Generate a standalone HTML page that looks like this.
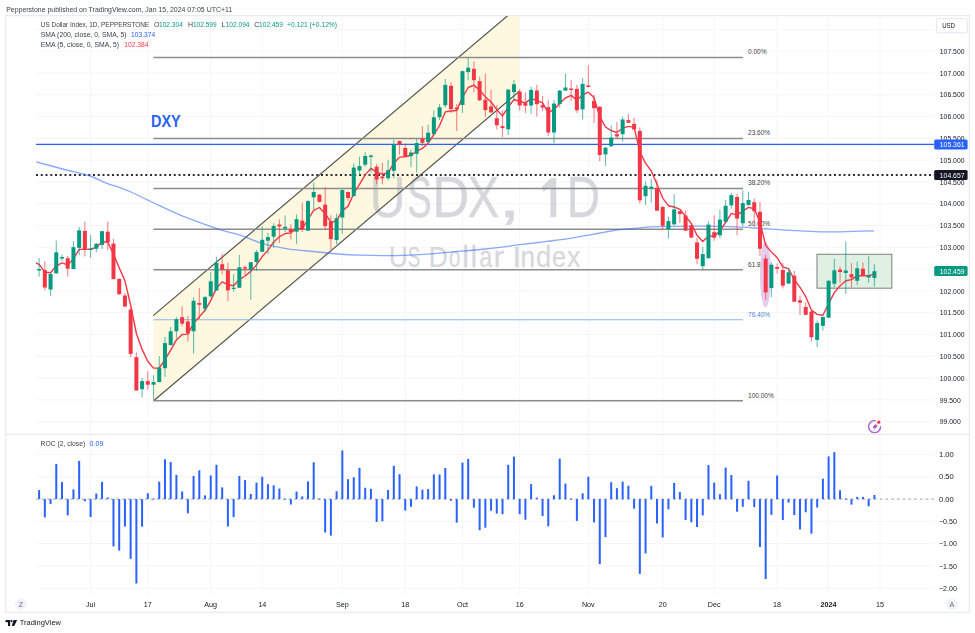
<!DOCTYPE html>
<html><head><meta charset="utf-8"><title>USDX 1D</title>
<style>html,body{margin:0;padding:0;background:#fff;}body{width:975px;height:633px;position:relative;overflow:hidden;font-family:"Liberation Sans",sans-serif;}</style>
</head><body>
<svg width="975" height="633" viewBox="0 0 975 633" style="position:absolute;left:0;top:0;filter:blur(0.3px)"><defs><clipPath id="mainclip"><rect x="36" y="16" width="898" height="418"/></clipPath><clipPath id="rocclip"><rect x="36" y="435" width="898" height="160"/></clipPath></defs><rect x="5.6" y="15.6" width="963.9" height="596.8" fill="#fff" stroke="#e9ebf0" stroke-width="1.3"/><line x1="36" y1="29.4" x2="934" y2="29.4" stroke="#f5f6f5" stroke-width="1"/><line x1="36" y1="51.2" x2="934" y2="51.2" stroke="#f5f6f5" stroke-width="1"/><line x1="36" y1="73.0" x2="934" y2="73.0" stroke="#f5f6f5" stroke-width="1"/><line x1="36" y1="94.8" x2="934" y2="94.8" stroke="#f5f6f5" stroke-width="1"/><line x1="36" y1="116.6" x2="934" y2="116.6" stroke="#f5f6f5" stroke-width="1"/><line x1="36" y1="138.4" x2="934" y2="138.4" stroke="#f5f6f5" stroke-width="1"/><line x1="36" y1="160.2" x2="934" y2="160.2" stroke="#f5f6f5" stroke-width="1"/><line x1="36" y1="182.0" x2="934" y2="182.0" stroke="#f5f6f5" stroke-width="1"/><line x1="36" y1="203.8" x2="934" y2="203.8" stroke="#f5f6f5" stroke-width="1"/><line x1="36" y1="225.6" x2="934" y2="225.6" stroke="#f5f6f5" stroke-width="1"/><line x1="36" y1="247.4" x2="934" y2="247.4" stroke="#f5f6f5" stroke-width="1"/><line x1="36" y1="269.2" x2="934" y2="269.2" stroke="#f5f6f5" stroke-width="1"/><line x1="36" y1="290.9" x2="934" y2="290.9" stroke="#f5f6f5" stroke-width="1"/><line x1="36" y1="312.7" x2="934" y2="312.7" stroke="#f5f6f5" stroke-width="1"/><line x1="36" y1="334.5" x2="934" y2="334.5" stroke="#f5f6f5" stroke-width="1"/><line x1="36" y1="356.3" x2="934" y2="356.3" stroke="#f5f6f5" stroke-width="1"/><line x1="36" y1="378.1" x2="934" y2="378.1" stroke="#f5f6f5" stroke-width="1"/><line x1="36" y1="399.9" x2="934" y2="399.9" stroke="#f5f6f5" stroke-width="1"/><line x1="36" y1="421.7" x2="934" y2="421.7" stroke="#f5f6f5" stroke-width="1"/><line x1="36" y1="454.6" x2="934" y2="454.6" stroke="#f5f6f5" stroke-width="1"/><line x1="36" y1="476.8" x2="934" y2="476.8" stroke="#f5f6f5" stroke-width="1"/><line x1="36" y1="499.1" x2="934" y2="499.1" stroke="#f5f6f5" stroke-width="1"/><line x1="36" y1="521.4" x2="934" y2="521.4" stroke="#f5f6f5" stroke-width="1"/><line x1="36" y1="543.6" x2="934" y2="543.6" stroke="#f5f6f5" stroke-width="1"/><line x1="36" y1="565.9" x2="934" y2="565.9" stroke="#f5f6f5" stroke-width="1"/><line x1="36" y1="588.2" x2="934" y2="588.2" stroke="#f5f6f5" stroke-width="1"/><line x1="90.6" y1="16" x2="90.6" y2="595" stroke="#f5f6f5" stroke-width="1"/><line x1="147.8" y1="16" x2="147.8" y2="595" stroke="#f5f6f5" stroke-width="1"/><line x1="210.7" y1="16" x2="210.7" y2="595" stroke="#f5f6f5" stroke-width="1"/><line x1="262.2" y1="16" x2="262.2" y2="595" stroke="#f5f6f5" stroke-width="1"/><line x1="342.3" y1="16" x2="342.3" y2="595" stroke="#f5f6f5" stroke-width="1"/><line x1="405.3" y1="16" x2="405.3" y2="595" stroke="#f5f6f5" stroke-width="1"/><line x1="462.5" y1="16" x2="462.5" y2="595" stroke="#f5f6f5" stroke-width="1"/><line x1="519.7" y1="16" x2="519.7" y2="595" stroke="#f5f6f5" stroke-width="1"/><line x1="588.3" y1="16" x2="588.3" y2="595" stroke="#f5f6f5" stroke-width="1"/><line x1="662.7" y1="16" x2="662.7" y2="595" stroke="#f5f6f5" stroke-width="1"/><line x1="714.2" y1="16" x2="714.2" y2="595" stroke="#f5f6f5" stroke-width="1"/><line x1="777.1" y1="16" x2="777.1" y2="595" stroke="#f5f6f5" stroke-width="1"/><line x1="828.6" y1="16" x2="828.6" y2="595" stroke="#f5f6f5" stroke-width="1"/><line x1="880.1" y1="16" x2="880.1" y2="595" stroke="#f5f6f5" stroke-width="1"/><line x1="5.5" y1="434.4" x2="969.5" y2="434.4" stroke="#e9ebf0" stroke-width="1.3"/><g clip-path="url(#mainclip)"><polygon points="153.2,315.6 519.4,5.8 519.4,91.3 153.6,400.8" fill="#fff8e1"/><g opacity="0.52" fill="#b2b5be" stroke="#b2b5be" stroke-width="0.35"><text x="0" y="217.4" transform="translate(369.50 0) scale(0.870 1)" font-family='"Liberation Sans", sans-serif' font-size="57.5">U</text><text x="0" y="217.4" transform="translate(407.24 0) scale(0.634 1)" font-family='"Liberation Sans", sans-serif' font-size="57.5">S</text><text x="0" y="217.4" transform="translate(432.29 0) scale(0.893 1)" font-family='"Liberation Sans", sans-serif' font-size="57.5">D</text><text x="0" y="217.4" transform="translate(467.44 0) scale(0.831 1)" font-family='"Liberation Sans", sans-serif' font-size="57.5">X</text><text x="0" y="217.4" transform="translate(497.91 0) scale(1.455 1)" font-family='"Liberation Sans", sans-serif' font-size="57.5">,</text><text x="0" y="217.4" transform="translate(566.81 0) scale(0.803 1)" font-family='"Liberation Sans", sans-serif' font-size="57.5">D</text><path d="M550.6,178.3 L556.1,178.3 L556.1,217.1 L550.6,217.1 L550.6,186.5 L543.5,191.5 L542.0,187.0 Z"/></g><g opacity="0.52" fill="#b2b5be" stroke="#b2b5be" stroke-width="0.25"><text x="0" y="266.9" transform="translate(388.89 0) scale(0.892 1)" font-family='"Liberation Sans", sans-serif' font-size="29.0">U</text><text x="0" y="266.9" transform="translate(407.85 0) scale(0.649 1)" font-family='"Liberation Sans", sans-serif' font-size="29.0">S</text><text x="0" y="266.9" transform="translate(428.79 0) scale(0.908 1)" font-family='"Liberation Sans", sans-serif' font-size="29.0">D</text><text x="0" y="266.9" transform="translate(449.08 0) scale(0.704 1)" font-family='"Liberation Sans", sans-serif' font-size="29.0">o</text><text x="0" y="266.9" transform="translate(462.20 0) scale(1.034 1)" font-family='"Liberation Sans", sans-serif' font-size="29.0">l</text><text x="0" y="266.9" transform="translate(470.50 0) scale(1.034 1)" font-family='"Liberation Sans", sans-serif' font-size="29.0">l</text><text x="0" y="266.9" transform="translate(479.26 0) scale(0.809 1)" font-family='"Liberation Sans", sans-serif' font-size="29.0">a</text><text x="0" y="266.9" transform="translate(493.41 0) scale(1.088 1)" font-family='"Liberation Sans", sans-serif' font-size="29.0">r</text><text x="0" y="266.9" transform="translate(512.23 0) scale(1.138 1)" font-family='"Liberation Sans", sans-serif' font-size="29.0">I</text><text x="0" y="266.9" transform="translate(520.43 0) scale(0.901 1)" font-family='"Liberation Sans", sans-serif' font-size="29.0">n</text><text x="0" y="266.9" transform="translate(536.00 0) scale(0.945 1)" font-family='"Liberation Sans", sans-serif' font-size="29.0">d</text><text x="0" y="266.9" transform="translate(551.88 0) scale(0.876 1)" font-family='"Liberation Sans", sans-serif' font-size="29.0">e</text><text x="0" y="266.9" transform="translate(567.03 0) scale(0.927 1)" font-family='"Liberation Sans", sans-serif' font-size="29.0">x</text></g><line x1="153.2" y1="315.6" x2="519.4" y2="5.8" stroke="#505046" stroke-width="1.15"/><line x1="153.6" y1="400.8" x2="519.4" y2="91.3" stroke="#505046" stroke-width="1.15"/><line x1="153.4" y1="57.5" x2="743" y2="57.5" stroke="#8c8c8c" stroke-width="1.5"/><text x="748" y="54.4" font-family='"Liberation Sans", sans-serif' font-size="8.0" fill="#3e4149" transform="translate(748 0) scale(0.82 1) translate(-748 0)">0.00%</text><line x1="153.4" y1="138.5" x2="743" y2="138.5" stroke="#8c8c8c" stroke-width="1.5"/><text x="748" y="135.4" font-family='"Liberation Sans", sans-serif' font-size="8.0" fill="#3e4149" transform="translate(748 0) scale(0.82 1) translate(-748 0)">23.60%</text><line x1="153.4" y1="188.6" x2="743" y2="188.6" stroke="#8c8c8c" stroke-width="1.5"/><text x="748" y="185.5" font-family='"Liberation Sans", sans-serif' font-size="8.0" fill="#3e4149" transform="translate(748 0) scale(0.82 1) translate(-748 0)">38.20%</text><line x1="153.4" y1="229.2" x2="743" y2="229.2" stroke="#8c8c8c" stroke-width="1.5"/><text x="748" y="226.1" font-family='"Liberation Sans", sans-serif' font-size="8.0" fill="#3e4149" transform="translate(748 0) scale(0.82 1) translate(-748 0)">50.00%</text><line x1="153.4" y1="269.7" x2="743" y2="269.7" stroke="#8c8c8c" stroke-width="1.5"/><text x="748" y="266.6" font-family='"Liberation Sans", sans-serif' font-size="8.0" fill="#3e4149" transform="translate(748 0) scale(0.82 1) translate(-748 0)">61.80%</text><line x1="153.4" y1="319.8" x2="743" y2="319.8" stroke="#8db3e8" stroke-width="1.1"/><text x="748" y="316.7" font-family='"Liberation Sans", sans-serif' font-size="8.0" fill="#4a86d4" transform="translate(748 0) scale(0.82 1) translate(-748 0)">76.40%</text><line x1="153.4" y1="400.8" x2="743" y2="400.8" stroke="#8c8c8c" stroke-width="1.5"/><text x="748" y="397.7" font-family='"Liberation Sans", sans-serif' font-size="8.0" fill="#3e4149" transform="translate(748 0) scale(0.82 1) translate(-748 0)">100.00%</text><line x1="36" y1="144.4" x2="934" y2="144.4" stroke="#2962ff" stroke-width="1.3"/><line x1="36" y1="175.1" x2="934" y2="175.1" stroke="#2a2e39" stroke-width="2" stroke-dasharray="2 2.75"/><rect x="817" y="254.3" width="74.8" height="33.9" fill="#e0f0e3" stroke="#858a88" stroke-width="1.1"/><ellipse cx="765.5" cy="274.5" rx="5.5" ry="33" fill="#e3c8ea" fill-opacity="0.92"/><path fill="none" stroke="#2962ff" stroke-opacity="0.55" stroke-width="1.35" d="M36.2,161.8 C40.3,162.9 53.3,166.5 60.8,168.5 C68.3,170.5 76.2,172.3 81.3,173.6 C86.4,174.9 87.2,174.9 91.5,176.5 C95.8,178.1 102.2,181.5 106.9,183.3 C111.7,185.2 116.2,186.2 120.0,187.6 C123.8,189.0 124.9,189.2 130.0,191.5 C135.1,193.8 142.2,197.5 150.8,201.5 C159.4,205.5 170.2,211.1 181.5,215.7 C192.8,220.3 208.8,225.9 218.5,229.2 C228.2,232.4 232.3,232.7 240.0,235.2 C247.7,237.7 256.4,241.9 264.6,244.2 C272.8,246.5 281.0,247.9 289.2,249.1 C297.4,250.3 305.6,250.7 313.8,251.5 C322.0,252.3 330.8,253.4 338.5,254.0 C346.2,254.6 352.4,254.9 360.0,255.2 C367.6,255.5 375.6,255.6 383.8,255.6 C392.1,255.6 400.9,255.4 409.5,255.1 C418.1,254.8 426.6,254.2 435.1,253.6 C443.7,252.9 453.3,251.9 460.8,251.2 C468.3,250.5 473.5,250.2 480.0,249.5 C486.5,248.8 493.3,248.1 500.0,247.3 C506.7,246.5 512.5,245.6 520.0,244.7 C527.5,243.8 536.7,242.7 545.0,241.6 C553.3,240.5 562.5,239.4 570.0,238.3 C577.5,237.2 584.2,235.8 590.0,234.8 C595.8,233.8 600.0,233.0 605.0,232.1 C610.0,231.2 614.2,230.3 620.0,229.6 C625.8,228.9 633.3,228.3 640.0,227.8 C646.7,227.3 650.0,227.0 660.0,226.7 C670.0,226.4 686.7,226.0 700.0,226.1 C713.3,226.2 729.5,226.7 740.0,227.1 C750.5,227.5 753.5,227.9 762.8,228.5 C772.1,229.1 784.6,230.0 795.6,230.6 C806.6,231.2 817.5,231.8 828.5,231.9 C839.5,232.0 853.7,231.3 861.3,231.1 C868.9,230.9 872.0,230.9 874.1,230.9"/><polyline fill="none" stroke="#f23645" stroke-width="1.4" stroke-linejoin="round" points="33.4,262.0 39.1,264.3 44.8,272.1 50.6,272.7 56.3,265.9 62.0,262.9 67.7,264.9 73.4,259.0 79.2,249.4 84.9,249.4 90.6,249.1 96.3,247.3 102.0,242.0 107.8,242.0 113.5,254.4 119.2,267.7 124.9,280.6 130.6,305.0 136.4,333.5 142.1,349.4 147.8,361.2 153.5,368.1 159.3,368.0 165.0,359.7 170.7,350.2 176.4,339.9 182.1,334.5 187.9,334.1 193.6,323.0 199.3,316.9 205.0,310.3 210.7,300.6 216.5,288.1 222.2,281.9 227.9,284.7 233.6,285.7 239.3,279.6 245.1,276.0 250.8,271.4 256.5,264.9 262.2,256.6 268.0,250.1 273.7,242.0 279.4,236.8 285.1,233.5 290.8,233.0 296.6,228.4 302.3,228.7 308.0,219.5 313.7,210.4 319.4,207.5 325.2,213.7 330.9,222.2 336.6,220.9 342.3,210.6 348.0,206.4 353.8,193.5 359.5,184.3 365.2,174.9 370.9,168.4 376.6,172.1 382.4,174.2 388.1,172.8 393.8,163.3 399.5,157.1 405.3,156.7 411.0,155.3 416.7,151.2 422.4,148.4 428.1,143.2 433.9,134.5 439.6,125.5 445.3,111.9 451.0,111.0 456.7,110.5 462.5,97.4 468.2,87.5 473.9,85.1 479.6,90.1 485.3,96.8 491.1,102.0 496.8,109.7 502.5,115.9 508.2,107.1 514.0,99.5 519.7,101.5 525.4,102.9 531.1,98.6 536.8,100.4 542.6,102.8 548.3,112.7 554.0,109.7 559.7,103.3 565.4,98.0 571.2,95.4 576.9,100.3 582.6,94.9 588.3,92.2 594.0,97.6 599.8,116.7 605.5,127.0 611.2,130.6 616.9,132.5 622.7,128.2 628.4,126.4 634.1,127.4 639.8,151.7 645.5,163.1 651.3,171.0 657.0,184.2 662.7,198.1 668.4,205.7 674.1,207.0 679.9,209.3 685.6,216.4 691.3,223.5 697.0,235.2 702.7,241.5 708.5,235.9 714.2,236.5 719.9,230.8 725.6,222.5 731.4,213.4 737.1,215.1 742.8,211.1 748.5,207.4 754.2,208.7 760.0,222.1 765.7,245.5 771.4,251.9 777.1,257.5 782.8,266.9 788.6,268.7 794.3,279.7 800.0,287.4 805.7,296.5 811.4,310.1 817.2,314.4 822.9,315.3 828.6,303.8 834.3,292.6 840.1,285.7 845.8,280.7 851.5,279.6 857.2,275.8 862.9,275.7 868.7,275.6 874.4,274.1"/><line x1="39.11" y1="258.0" x2="39.11" y2="276.7" stroke="#089981" stroke-width="1.1" stroke-opacity="0.62"/><rect x="37.11" y="269.0" width="4.0" height="1.5" fill="#089981"/><line x1="44.83" y1="261.3" x2="44.83" y2="290.2" stroke="#f23645" stroke-width="1.1" stroke-opacity="0.62"/><rect x="42.83" y="270.0" width="4.0" height="17.5" fill="#f23645"/><line x1="50.55" y1="273.0" x2="50.55" y2="296.2" stroke="#089981" stroke-width="1.1" stroke-opacity="0.62"/><rect x="48.55" y="274.0" width="4.0" height="15.5" fill="#089981"/><line x1="56.27" y1="240.5" x2="56.27" y2="273.4" stroke="#089981" stroke-width="1.1" stroke-opacity="0.62"/><rect x="54.27" y="252.3" width="4.0" height="21.1" fill="#089981"/><line x1="61.99" y1="254.6" x2="61.99" y2="261.3" stroke="#089981" stroke-width="1.1" stroke-opacity="0.62"/><rect x="59.99" y="257.0" width="4.0" height="1.5" fill="#089981"/><line x1="67.72" y1="256.0" x2="67.72" y2="276.7" stroke="#f23645" stroke-width="1.1" stroke-opacity="0.62"/><rect x="65.72" y="258.2" width="4.0" height="10.5" fill="#f23645"/><line x1="73.44" y1="241.2" x2="73.44" y2="269.0" stroke="#089981" stroke-width="1.1" stroke-opacity="0.62"/><rect x="71.44" y="247.2" width="4.0" height="21.8" fill="#089981"/><line x1="79.16" y1="227.0" x2="79.16" y2="255.3" stroke="#089981" stroke-width="1.1" stroke-opacity="0.62"/><rect x="77.16" y="230.4" width="4.0" height="17.5" fill="#089981"/><line x1="84.88" y1="221.7" x2="84.88" y2="256.5" stroke="#f23645" stroke-width="1.1" stroke-opacity="0.62"/><rect x="82.88" y="231.0" width="4.0" height="18.4" fill="#f23645"/><line x1="90.60" y1="234.8" x2="90.60" y2="257.7" stroke="#089981" stroke-width="1.1" stroke-opacity="0.62"/><rect x="88.60" y="248.5" width="4.0" height="1.5" fill="#089981"/><line x1="96.32" y1="243.0" x2="96.32" y2="252.3" stroke="#089981" stroke-width="1.1" stroke-opacity="0.62"/><rect x="94.32" y="243.8" width="4.0" height="4.9" fill="#089981"/><line x1="102.04" y1="231.0" x2="102.04" y2="249.0" stroke="#089981" stroke-width="1.1" stroke-opacity="0.62"/><rect x="100.04" y="231.2" width="4.0" height="13.7" fill="#089981"/><line x1="107.76" y1="221.4" x2="107.76" y2="250.3" stroke="#f23645" stroke-width="1.1" stroke-opacity="0.62"/><rect x="105.76" y="231.7" width="4.0" height="10.5" fill="#f23645"/><line x1="113.48" y1="238.9" x2="113.48" y2="279.5" stroke="#f23645" stroke-width="1.1" stroke-opacity="0.62"/><rect x="111.48" y="243.6" width="4.0" height="35.5" fill="#f23645"/><line x1="119.20" y1="278.0" x2="119.20" y2="295.0" stroke="#f23645" stroke-width="1.1" stroke-opacity="0.62"/><rect x="117.20" y="279.0" width="4.0" height="15.2" fill="#f23645"/><line x1="124.93" y1="293.0" x2="124.93" y2="307.0" stroke="#f23645" stroke-width="1.1" stroke-opacity="0.62"/><rect x="122.93" y="295.5" width="4.0" height="11.0" fill="#f23645"/><line x1="130.65" y1="308.5" x2="130.65" y2="357.2" stroke="#f23645" stroke-width="1.1" stroke-opacity="0.62"/><rect x="128.65" y="309.6" width="4.0" height="44.3" fill="#f23645"/><line x1="136.37" y1="352.5" x2="136.37" y2="391.0" stroke="#f23645" stroke-width="1.1" stroke-opacity="0.62"/><rect x="134.37" y="357.2" width="4.0" height="33.3" fill="#f23645"/><line x1="142.09" y1="378.0" x2="142.09" y2="397.5" stroke="#089981" stroke-width="1.1" stroke-opacity="0.62"/><rect x="140.09" y="381.1" width="4.0" height="8.1" fill="#089981"/><line x1="147.81" y1="371.3" x2="147.81" y2="389.4" stroke="#f23645" stroke-width="1.1" stroke-opacity="0.62"/><rect x="145.81" y="381.1" width="4.0" height="3.6" fill="#f23645"/><line x1="153.53" y1="375.3" x2="153.53" y2="399.5" stroke="#089981" stroke-width="1.1" stroke-opacity="0.62"/><rect x="151.53" y="382.0" width="4.0" height="2.7" fill="#089981"/><line x1="159.25" y1="355.9" x2="159.25" y2="382.5" stroke="#089981" stroke-width="1.1" stroke-opacity="0.62"/><rect x="157.25" y="367.7" width="4.0" height="14.3" fill="#089981"/><line x1="164.97" y1="336.8" x2="164.97" y2="376.7" stroke="#089981" stroke-width="1.1" stroke-opacity="0.62"/><rect x="162.97" y="343.1" width="4.0" height="25.1" fill="#089981"/><line x1="170.69" y1="326.9" x2="170.69" y2="345.5" stroke="#089981" stroke-width="1.1" stroke-opacity="0.62"/><rect x="168.69" y="331.3" width="4.0" height="13.8" fill="#089981"/><line x1="176.41" y1="317.0" x2="176.41" y2="338.7" stroke="#089981" stroke-width="1.1" stroke-opacity="0.62"/><rect x="174.41" y="319.2" width="4.0" height="12.1" fill="#089981"/><line x1="182.14" y1="306.5" x2="182.14" y2="326.6" stroke="#f23645" stroke-width="1.1" stroke-opacity="0.62"/><rect x="180.14" y="317.2" width="4.0" height="6.5" fill="#f23645"/><line x1="187.86" y1="315.9" x2="187.86" y2="341.4" stroke="#f23645" stroke-width="1.1" stroke-opacity="0.62"/><rect x="185.86" y="321.5" width="4.0" height="11.8" fill="#f23645"/><line x1="193.58" y1="297.3" x2="193.58" y2="353.5" stroke="#089981" stroke-width="1.1" stroke-opacity="0.62"/><rect x="191.58" y="300.8" width="4.0" height="30.5" fill="#089981"/><line x1="199.30" y1="288.0" x2="199.30" y2="319.2" stroke="#f23645" stroke-width="1.1" stroke-opacity="0.62"/><rect x="197.30" y="303.0" width="4.0" height="1.8" fill="#f23645"/><line x1="205.02" y1="296.0" x2="205.02" y2="311.8" stroke="#089981" stroke-width="1.1" stroke-opacity="0.62"/><rect x="203.02" y="297.1" width="4.0" height="11.6" fill="#089981"/><line x1="210.74" y1="272.3" x2="210.74" y2="297.0" stroke="#089981" stroke-width="1.1" stroke-opacity="0.62"/><rect x="208.74" y="281.3" width="4.0" height="15.1" fill="#089981"/><line x1="216.46" y1="256.8" x2="216.46" y2="291.0" stroke="#089981" stroke-width="1.1" stroke-opacity="0.62"/><rect x="214.46" y="262.9" width="4.0" height="27.5" fill="#089981"/><line x1="222.18" y1="253.5" x2="222.18" y2="274.3" stroke="#f23645" stroke-width="1.1" stroke-opacity="0.62"/><rect x="220.18" y="264.2" width="4.0" height="5.4" fill="#f23645"/><line x1="227.90" y1="262.9" x2="227.90" y2="301.1" stroke="#f23645" stroke-width="1.1" stroke-opacity="0.62"/><rect x="225.90" y="270.3" width="4.0" height="20.1" fill="#f23645"/><line x1="233.62" y1="274.3" x2="233.62" y2="291.7" stroke="#089981" stroke-width="1.1" stroke-opacity="0.62"/><rect x="231.62" y="287.7" width="4.0" height="1.3" fill="#089981"/><line x1="239.35" y1="254.8" x2="239.35" y2="288.0" stroke="#089981" stroke-width="1.1" stroke-opacity="0.62"/><rect x="237.35" y="267.3" width="4.0" height="20.4" fill="#089981"/><line x1="245.07" y1="265.2" x2="245.07" y2="275.0" stroke="#f23645" stroke-width="1.1" stroke-opacity="0.62"/><rect x="243.07" y="267.2" width="4.0" height="1.5" fill="#f23645"/><line x1="250.79" y1="262.0" x2="250.79" y2="299.8" stroke="#089981" stroke-width="1.1" stroke-opacity="0.62"/><rect x="248.79" y="262.2" width="4.0" height="7.4" fill="#089981"/><line x1="256.51" y1="250.1" x2="256.51" y2="270.9" stroke="#089981" stroke-width="1.1" stroke-opacity="0.62"/><rect x="254.51" y="252.1" width="4.0" height="9.9" fill="#089981"/><line x1="262.23" y1="226.3" x2="262.23" y2="252.0" stroke="#089981" stroke-width="1.1" stroke-opacity="0.62"/><rect x="260.23" y="239.8" width="4.0" height="12.0" fill="#089981"/><line x1="267.95" y1="233.0" x2="267.95" y2="254.1" stroke="#089981" stroke-width="1.1" stroke-opacity="0.62"/><rect x="265.95" y="237.1" width="4.0" height="3.6" fill="#089981"/><line x1="273.67" y1="223.3" x2="273.67" y2="248.1" stroke="#089981" stroke-width="1.1" stroke-opacity="0.62"/><rect x="271.67" y="225.9" width="4.0" height="10.8" fill="#089981"/><line x1="279.39" y1="219.6" x2="279.39" y2="243.0" stroke="#f23645" stroke-width="1.1" stroke-opacity="0.62"/><rect x="277.39" y="224.5" width="4.0" height="2.0" fill="#f23645"/><line x1="285.11" y1="215.6" x2="285.11" y2="232.0" stroke="#089981" stroke-width="1.1" stroke-opacity="0.62"/><rect x="283.11" y="226.8" width="4.0" height="1.7" fill="#089981"/><line x1="290.84" y1="224.2" x2="290.84" y2="239.4" stroke="#f23645" stroke-width="1.1" stroke-opacity="0.62"/><rect x="288.84" y="229.0" width="4.0" height="3.0" fill="#f23645"/><line x1="296.56" y1="214.5" x2="296.56" y2="244.1" stroke="#089981" stroke-width="1.1" stroke-opacity="0.62"/><rect x="294.56" y="219.2" width="4.0" height="12.5" fill="#089981"/><line x1="302.28" y1="202.4" x2="302.28" y2="232.0" stroke="#f23645" stroke-width="1.1" stroke-opacity="0.62"/><rect x="300.28" y="220.7" width="4.0" height="8.6" fill="#f23645"/><line x1="308.00" y1="200.0" x2="308.00" y2="231.0" stroke="#089981" stroke-width="1.1" stroke-opacity="0.62"/><rect x="306.00" y="201.2" width="4.0" height="29.4" fill="#089981"/><line x1="313.72" y1="182.6" x2="313.72" y2="209.4" stroke="#089981" stroke-width="1.1" stroke-opacity="0.62"/><rect x="311.72" y="192.0" width="4.0" height="5.3" fill="#089981"/><line x1="319.44" y1="194.0" x2="319.44" y2="202.5" stroke="#f23645" stroke-width="1.1" stroke-opacity="0.62"/><rect x="317.44" y="194.7" width="4.0" height="7.2" fill="#f23645"/><line x1="325.16" y1="187.3" x2="325.16" y2="229.7" stroke="#f23645" stroke-width="1.1" stroke-opacity="0.62"/><rect x="323.16" y="204.6" width="4.0" height="21.5" fill="#f23645"/><line x1="330.88" y1="215.3" x2="330.88" y2="249.5" stroke="#f23645" stroke-width="1.1" stroke-opacity="0.62"/><rect x="328.88" y="221.6" width="4.0" height="17.5" fill="#f23645"/><line x1="336.60" y1="213.5" x2="336.60" y2="244.1" stroke="#089981" stroke-width="1.1" stroke-opacity="0.62"/><rect x="334.60" y="218.2" width="4.0" height="21.8" fill="#089981"/><line x1="342.32" y1="189.5" x2="342.32" y2="233.7" stroke="#089981" stroke-width="1.1" stroke-opacity="0.62"/><rect x="340.32" y="190.0" width="4.0" height="27.5" fill="#089981"/><line x1="348.04" y1="191.5" x2="348.04" y2="200.7" stroke="#f23645" stroke-width="1.1" stroke-opacity="0.62"/><rect x="346.04" y="192.0" width="4.0" height="6.0" fill="#f23645"/><line x1="353.77" y1="163.6" x2="353.77" y2="196.5" stroke="#089981" stroke-width="1.1" stroke-opacity="0.62"/><rect x="351.77" y="167.6" width="4.0" height="28.4" fill="#089981"/><line x1="359.49" y1="156.7" x2="359.49" y2="174.8" stroke="#089981" stroke-width="1.1" stroke-opacity="0.62"/><rect x="357.49" y="166.1" width="4.0" height="4.4" fill="#089981"/><line x1="365.21" y1="152.2" x2="365.21" y2="166.7" stroke="#089981" stroke-width="1.1" stroke-opacity="0.62"/><rect x="363.21" y="156.0" width="4.0" height="8.7" fill="#089981"/><line x1="370.93" y1="154.4" x2="370.93" y2="172.8" stroke="#089981" stroke-width="1.1" stroke-opacity="0.62"/><rect x="368.93" y="155.5" width="4.0" height="1.5" fill="#089981"/><line x1="376.65" y1="164.0" x2="376.65" y2="184.2" stroke="#f23645" stroke-width="1.1" stroke-opacity="0.62"/><rect x="374.65" y="166.7" width="4.0" height="12.8" fill="#f23645"/><line x1="382.37" y1="163.0" x2="382.37" y2="184.2" stroke="#f23645" stroke-width="1.1" stroke-opacity="0.62"/><rect x="380.37" y="176.5" width="4.0" height="1.8" fill="#f23645"/><line x1="388.09" y1="159.8" x2="388.09" y2="180.2" stroke="#089981" stroke-width="1.1" stroke-opacity="0.62"/><rect x="386.09" y="170.1" width="4.0" height="8.1" fill="#089981"/><line x1="393.81" y1="139.6" x2="393.81" y2="178.2" stroke="#089981" stroke-width="1.1" stroke-opacity="0.62"/><rect x="391.81" y="144.2" width="4.0" height="26.6" fill="#089981"/><line x1="399.53" y1="140.5" x2="399.53" y2="154.7" stroke="#f23645" stroke-width="1.1" stroke-opacity="0.62"/><rect x="397.53" y="141.0" width="4.0" height="3.6" fill="#f23645"/><line x1="405.25" y1="143.5" x2="405.25" y2="156.5" stroke="#f23645" stroke-width="1.1" stroke-opacity="0.62"/><rect x="403.25" y="148.0" width="4.0" height="8.1" fill="#f23645"/><line x1="410.98" y1="149.3" x2="410.98" y2="167.3" stroke="#089981" stroke-width="1.1" stroke-opacity="0.62"/><rect x="408.98" y="152.5" width="4.0" height="3.6" fill="#089981"/><line x1="416.70" y1="139.0" x2="416.70" y2="172.7" stroke="#089981" stroke-width="1.1" stroke-opacity="0.62"/><rect x="414.70" y="143.0" width="4.0" height="10.8" fill="#089981"/><line x1="422.42" y1="126.4" x2="422.42" y2="145.7" stroke="#f23645" stroke-width="1.1" stroke-opacity="0.62"/><rect x="420.42" y="138.5" width="4.0" height="4.3" fill="#f23645"/><line x1="428.14" y1="124.7" x2="428.14" y2="142.5" stroke="#089981" stroke-width="1.1" stroke-opacity="0.62"/><rect x="426.14" y="132.7" width="4.0" height="9.4" fill="#089981"/><line x1="433.86" y1="110.6" x2="433.86" y2="134.5" stroke="#089981" stroke-width="1.1" stroke-opacity="0.62"/><rect x="431.86" y="117.3" width="4.0" height="16.8" fill="#089981"/><line x1="439.58" y1="103.9" x2="439.58" y2="120.0" stroke="#089981" stroke-width="1.1" stroke-opacity="0.62"/><rect x="437.58" y="107.3" width="4.0" height="10.0" fill="#089981"/><line x1="445.30" y1="79.1" x2="445.30" y2="107.7" stroke="#089981" stroke-width="1.1" stroke-opacity="0.62"/><rect x="443.30" y="84.9" width="4.0" height="20.4" fill="#089981"/><line x1="451.02" y1="82.2" x2="451.02" y2="113.0" stroke="#f23645" stroke-width="1.1" stroke-opacity="0.62"/><rect x="449.02" y="85.8" width="4.0" height="23.2" fill="#f23645"/><line x1="456.74" y1="104.0" x2="456.74" y2="131.0" stroke="#f23645" stroke-width="1.1" stroke-opacity="0.62"/><rect x="454.74" y="107.6" width="4.0" height="1.9" fill="#f23645"/><line x1="462.47" y1="70.5" x2="462.47" y2="113.1" stroke="#089981" stroke-width="1.1" stroke-opacity="0.62"/><rect x="460.47" y="71.2" width="4.0" height="33.8" fill="#089981"/><line x1="468.19" y1="57.8" x2="468.19" y2="80.2" stroke="#089981" stroke-width="1.1" stroke-opacity="0.62"/><rect x="466.19" y="67.7" width="4.0" height="4.4" fill="#089981"/><line x1="473.91" y1="61.4" x2="473.91" y2="92.3" stroke="#f23645" stroke-width="1.1" stroke-opacity="0.62"/><rect x="471.91" y="68.8" width="4.0" height="11.4" fill="#f23645"/><line x1="479.63" y1="76.8" x2="479.63" y2="101.0" stroke="#f23645" stroke-width="1.1" stroke-opacity="0.62"/><rect x="477.63" y="81.1" width="4.0" height="19.2" fill="#f23645"/><line x1="485.35" y1="73.5" x2="485.35" y2="117.1" stroke="#f23645" stroke-width="1.1" stroke-opacity="0.62"/><rect x="483.35" y="99.7" width="4.0" height="10.4" fill="#f23645"/><line x1="491.07" y1="89.6" x2="491.07" y2="113.0" stroke="#f23645" stroke-width="1.1" stroke-opacity="0.62"/><rect x="489.07" y="106.4" width="4.0" height="6.0" fill="#f23645"/><line x1="496.79" y1="105.0" x2="496.79" y2="129.2" stroke="#f23645" stroke-width="1.1" stroke-opacity="0.62"/><rect x="494.79" y="118.2" width="4.0" height="7.0" fill="#f23645"/><line x1="502.51" y1="110.4" x2="502.51" y2="137.0" stroke="#f23645" stroke-width="1.1" stroke-opacity="0.62"/><rect x="500.51" y="126.2" width="4.0" height="1.9" fill="#f23645"/><line x1="508.23" y1="89.0" x2="508.23" y2="135.0" stroke="#089981" stroke-width="1.1" stroke-opacity="0.62"/><rect x="506.23" y="89.7" width="4.0" height="39.6" fill="#089981"/><line x1="513.95" y1="79.9" x2="513.95" y2="100.3" stroke="#089981" stroke-width="1.1" stroke-opacity="0.62"/><rect x="511.95" y="84.2" width="4.0" height="7.9" fill="#089981"/><line x1="519.67" y1="88.9" x2="519.67" y2="110.5" stroke="#f23645" stroke-width="1.1" stroke-opacity="0.62"/><rect x="517.67" y="91.5" width="4.0" height="14.0" fill="#f23645"/><line x1="525.40" y1="92.2" x2="525.40" y2="113.0" stroke="#f23645" stroke-width="1.1" stroke-opacity="0.62"/><rect x="523.40" y="103.1" width="4.0" height="2.6" fill="#f23645"/><line x1="531.12" y1="86.8" x2="531.12" y2="113.7" stroke="#089981" stroke-width="1.1" stroke-opacity="0.62"/><rect x="529.12" y="89.9" width="4.0" height="15.6" fill="#089981"/><line x1="536.84" y1="84.8" x2="536.84" y2="116.5" stroke="#f23645" stroke-width="1.1" stroke-opacity="0.62"/><rect x="534.84" y="90.5" width="4.0" height="13.7" fill="#f23645"/><line x1="542.56" y1="96.0" x2="542.56" y2="111.0" stroke="#f23645" stroke-width="1.1" stroke-opacity="0.62"/><rect x="540.56" y="105.2" width="4.0" height="2.3" fill="#f23645"/><line x1="548.28" y1="100.3" x2="548.28" y2="135.8" stroke="#f23645" stroke-width="1.1" stroke-opacity="0.62"/><rect x="546.28" y="107.2" width="4.0" height="25.3" fill="#f23645"/><line x1="554.00" y1="100.3" x2="554.00" y2="143.2" stroke="#089981" stroke-width="1.1" stroke-opacity="0.62"/><rect x="552.00" y="103.6" width="4.0" height="28.9" fill="#089981"/><line x1="559.72" y1="90.0" x2="559.72" y2="107.7" stroke="#089981" stroke-width="1.1" stroke-opacity="0.62"/><rect x="557.72" y="90.6" width="4.0" height="13.4" fill="#089981"/><line x1="565.44" y1="73.4" x2="565.44" y2="90.8" stroke="#089981" stroke-width="1.1" stroke-opacity="0.62"/><rect x="563.44" y="87.5" width="4.0" height="3.1" fill="#089981"/><line x1="571.16" y1="80.1" x2="571.16" y2="100.9" stroke="#f23645" stroke-width="1.1" stroke-opacity="0.62"/><rect x="569.16" y="88.5" width="4.0" height="1.5" fill="#f23645"/><line x1="576.88" y1="84.8" x2="576.88" y2="113.0" stroke="#f23645" stroke-width="1.1" stroke-opacity="0.62"/><rect x="574.88" y="88.9" width="4.0" height="21.4" fill="#f23645"/><line x1="582.61" y1="78.1" x2="582.61" y2="119.7" stroke="#089981" stroke-width="1.1" stroke-opacity="0.62"/><rect x="580.61" y="83.9" width="4.0" height="25.5" fill="#089981"/><line x1="588.33" y1="65.1" x2="588.33" y2="87.5" stroke="#f23645" stroke-width="1.1" stroke-opacity="0.62"/><rect x="586.33" y="85.5" width="4.0" height="1.5" fill="#f23645"/><line x1="594.05" y1="94.9" x2="594.05" y2="122.9" stroke="#f23645" stroke-width="1.1" stroke-opacity="0.62"/><rect x="592.05" y="100.9" width="4.0" height="7.3" fill="#f23645"/><line x1="599.77" y1="106.0" x2="599.77" y2="161.1" stroke="#f23645" stroke-width="1.1" stroke-opacity="0.62"/><rect x="597.77" y="106.8" width="4.0" height="48.2" fill="#f23645"/><line x1="605.49" y1="147.0" x2="605.49" y2="165.8" stroke="#089981" stroke-width="1.1" stroke-opacity="0.62"/><rect x="603.49" y="147.7" width="4.0" height="6.7" fill="#089981"/><line x1="611.21" y1="125.5" x2="611.21" y2="147.0" stroke="#089981" stroke-width="1.1" stroke-opacity="0.62"/><rect x="609.21" y="137.6" width="4.0" height="8.7" fill="#089981"/><line x1="616.93" y1="122.1" x2="616.93" y2="138.9" stroke="#f23645" stroke-width="1.1" stroke-opacity="0.62"/><rect x="614.93" y="134.2" width="4.0" height="2.3" fill="#f23645"/><line x1="622.65" y1="116.8" x2="622.65" y2="141.6" stroke="#089981" stroke-width="1.1" stroke-opacity="0.62"/><rect x="620.65" y="119.5" width="4.0" height="14.7" fill="#089981"/><line x1="628.37" y1="114.1" x2="628.37" y2="123.0" stroke="#f23645" stroke-width="1.1" stroke-opacity="0.62"/><rect x="626.37" y="120.1" width="4.0" height="2.7" fill="#f23645"/><line x1="634.10" y1="118.1" x2="634.10" y2="130.0" stroke="#f23645" stroke-width="1.1" stroke-opacity="0.62"/><rect x="632.10" y="123.9" width="4.0" height="5.6" fill="#f23645"/><line x1="639.82" y1="127.5" x2="639.82" y2="203.6" stroke="#f23645" stroke-width="1.1" stroke-opacity="0.62"/><rect x="637.82" y="130.9" width="4.0" height="69.4" fill="#f23645"/><line x1="645.54" y1="181.5" x2="645.54" y2="205.0" stroke="#089981" stroke-width="1.1" stroke-opacity="0.62"/><rect x="643.54" y="185.8" width="4.0" height="10.4" fill="#089981"/><line x1="651.26" y1="178.8" x2="651.26" y2="202.7" stroke="#089981" stroke-width="1.1" stroke-opacity="0.62"/><rect x="649.26" y="186.7" width="4.0" height="1.6" fill="#089981"/><line x1="656.98" y1="179.5" x2="656.98" y2="211.0" stroke="#f23645" stroke-width="1.1" stroke-opacity="0.62"/><rect x="654.98" y="188.2" width="4.0" height="22.5" fill="#f23645"/><line x1="662.70" y1="206.0" x2="662.70" y2="229.8" stroke="#f23645" stroke-width="1.1" stroke-opacity="0.62"/><rect x="660.70" y="207.0" width="4.0" height="18.8" fill="#f23645"/><line x1="668.42" y1="216.4" x2="668.42" y2="238.5" stroke="#089981" stroke-width="1.1" stroke-opacity="0.62"/><rect x="666.42" y="221.1" width="4.0" height="8.0" fill="#089981"/><line x1="674.14" y1="194.2" x2="674.14" y2="225.0" stroke="#089981" stroke-width="1.1" stroke-opacity="0.62"/><rect x="672.14" y="209.4" width="4.0" height="15.0" fill="#089981"/><line x1="679.86" y1="211.0" x2="679.86" y2="223.1" stroke="#f23645" stroke-width="1.1" stroke-opacity="0.62"/><rect x="677.86" y="211.3" width="4.0" height="2.7" fill="#f23645"/><line x1="685.58" y1="210.4" x2="685.58" y2="231.0" stroke="#f23645" stroke-width="1.1" stroke-opacity="0.62"/><rect x="683.58" y="215.5" width="4.0" height="15.1" fill="#f23645"/><line x1="691.31" y1="224.8" x2="691.31" y2="238.0" stroke="#f23645" stroke-width="1.1" stroke-opacity="0.62"/><rect x="689.31" y="225.3" width="4.0" height="12.3" fill="#f23645"/><line x1="697.03" y1="238.0" x2="697.03" y2="264.2" stroke="#f23645" stroke-width="1.1" stroke-opacity="0.62"/><rect x="695.03" y="242.4" width="4.0" height="16.4" fill="#f23645"/><line x1="702.75" y1="246.7" x2="702.75" y2="270.0" stroke="#089981" stroke-width="1.1" stroke-opacity="0.62"/><rect x="700.75" y="254.1" width="4.0" height="12.1" fill="#089981"/><line x1="708.47" y1="221.2" x2="708.47" y2="258.5" stroke="#089981" stroke-width="1.1" stroke-opacity="0.62"/><rect x="706.47" y="224.6" width="4.0" height="33.6" fill="#089981"/><line x1="714.19" y1="215.2" x2="714.19" y2="240.7" stroke="#f23645" stroke-width="1.1" stroke-opacity="0.62"/><rect x="712.19" y="232.2" width="4.0" height="5.4" fill="#f23645"/><line x1="719.91" y1="209.8" x2="719.91" y2="238.0" stroke="#089981" stroke-width="1.1" stroke-opacity="0.62"/><rect x="717.91" y="219.6" width="4.0" height="15.7" fill="#089981"/><line x1="725.63" y1="199.8" x2="725.63" y2="222.0" stroke="#089981" stroke-width="1.1" stroke-opacity="0.62"/><rect x="723.63" y="205.8" width="4.0" height="16.1" fill="#089981"/><line x1="731.35" y1="193.1" x2="731.35" y2="208.5" stroke="#089981" stroke-width="1.1" stroke-opacity="0.62"/><rect x="729.35" y="195.2" width="4.0" height="10.2" fill="#089981"/><line x1="737.07" y1="193.7" x2="737.07" y2="235.3" stroke="#f23645" stroke-width="1.1" stroke-opacity="0.62"/><rect x="735.07" y="197.0" width="4.0" height="21.6" fill="#f23645"/><line x1="742.79" y1="190.4" x2="742.79" y2="226.6" stroke="#089981" stroke-width="1.1" stroke-opacity="0.62"/><rect x="740.79" y="203.1" width="4.0" height="20.2" fill="#089981"/><line x1="748.51" y1="191.7" x2="748.51" y2="205.5" stroke="#089981" stroke-width="1.1" stroke-opacity="0.62"/><rect x="746.51" y="200.0" width="4.0" height="5.1" fill="#089981"/><line x1="754.24" y1="198.4" x2="754.24" y2="226.6" stroke="#f23645" stroke-width="1.1" stroke-opacity="0.62"/><rect x="752.24" y="202.2" width="4.0" height="9.0" fill="#f23645"/><line x1="759.96" y1="201.8" x2="759.96" y2="256.1" stroke="#f23645" stroke-width="1.1" stroke-opacity="0.62"/><rect x="757.96" y="211.8" width="4.0" height="37.0" fill="#f23645"/><line x1="765.68" y1="254.8" x2="765.68" y2="299.8" stroke="#f23645" stroke-width="1.1" stroke-opacity="0.62"/><rect x="763.68" y="258.6" width="4.0" height="33.8" fill="#f23645"/><line x1="771.40" y1="262.2" x2="771.40" y2="297.1" stroke="#089981" stroke-width="1.1" stroke-opacity="0.62"/><rect x="769.40" y="264.7" width="4.0" height="23.3" fill="#089981"/><line x1="777.12" y1="263.6" x2="777.12" y2="273.6" stroke="#f23645" stroke-width="1.1" stroke-opacity="0.62"/><rect x="775.12" y="267.0" width="4.0" height="1.8" fill="#f23645"/><line x1="782.84" y1="262.9" x2="782.84" y2="288.4" stroke="#f23645" stroke-width="1.1" stroke-opacity="0.62"/><rect x="780.84" y="270.0" width="4.0" height="15.7" fill="#f23645"/><line x1="788.56" y1="268.3" x2="788.56" y2="284.0" stroke="#089981" stroke-width="1.1" stroke-opacity="0.62"/><rect x="786.56" y="272.3" width="4.0" height="11.3" fill="#089981"/><line x1="794.28" y1="271.1" x2="794.28" y2="302.0" stroke="#f23645" stroke-width="1.1" stroke-opacity="0.62"/><rect x="792.28" y="275.7" width="4.0" height="26.0" fill="#f23645"/><line x1="800.00" y1="295.6" x2="800.00" y2="315.0" stroke="#f23645" stroke-width="1.1" stroke-opacity="0.62"/><rect x="798.00" y="300.3" width="4.0" height="2.4" fill="#f23645"/><line x1="805.73" y1="302.3" x2="805.73" y2="315.0" stroke="#f23645" stroke-width="1.1" stroke-opacity="0.62"/><rect x="803.73" y="307.0" width="4.0" height="7.8" fill="#f23645"/><line x1="811.45" y1="311.0" x2="811.45" y2="341.6" stroke="#f23645" stroke-width="1.1" stroke-opacity="0.62"/><rect x="809.45" y="311.7" width="4.0" height="25.5" fill="#f23645"/><line x1="817.17" y1="320.4" x2="817.17" y2="347.0" stroke="#089981" stroke-width="1.1" stroke-opacity="0.62"/><rect x="815.17" y="323.1" width="4.0" height="16.8" fill="#089981"/><line x1="822.89" y1="316.5" x2="822.89" y2="330.5" stroke="#089981" stroke-width="1.1" stroke-opacity="0.62"/><rect x="820.89" y="317.0" width="4.0" height="8.8" fill="#089981"/><line x1="828.61" y1="280.0" x2="828.61" y2="318.0" stroke="#089981" stroke-width="1.1" stroke-opacity="0.62"/><rect x="826.61" y="280.8" width="4.0" height="36.9" fill="#089981"/><line x1="834.33" y1="258.7" x2="834.33" y2="287.2" stroke="#089981" stroke-width="1.1" stroke-opacity="0.62"/><rect x="832.33" y="270.3" width="4.0" height="13.4" fill="#089981"/><line x1="840.05" y1="266.5" x2="840.05" y2="282.5" stroke="#f23645" stroke-width="1.1" stroke-opacity="0.62"/><rect x="838.05" y="269.5" width="4.0" height="2.5" fill="#f23645"/><line x1="845.77" y1="241.6" x2="845.77" y2="294.1" stroke="#089981" stroke-width="1.1" stroke-opacity="0.62"/><rect x="843.77" y="270.5" width="4.0" height="2.5" fill="#089981"/><line x1="851.49" y1="263.1" x2="851.49" y2="287.5" stroke="#f23645" stroke-width="1.1" stroke-opacity="0.62"/><rect x="849.49" y="274.2" width="4.0" height="3.3" fill="#f23645"/><line x1="857.21" y1="261.5" x2="857.21" y2="285.3" stroke="#089981" stroke-width="1.1" stroke-opacity="0.62"/><rect x="855.21" y="268.3" width="4.0" height="12.5" fill="#089981"/><line x1="862.94" y1="262.6" x2="862.94" y2="276.0" stroke="#f23645" stroke-width="1.1" stroke-opacity="0.62"/><rect x="860.94" y="268.7" width="4.0" height="6.6" fill="#f23645"/><line x1="868.66" y1="256.2" x2="868.66" y2="282.5" stroke="#089981" stroke-width="1.1" stroke-opacity="0.62"/><rect x="866.66" y="275.5" width="4.0" height="2.0" fill="#089981"/><line x1="874.38" y1="264.3" x2="874.38" y2="286.4" stroke="#089981" stroke-width="1.1" stroke-opacity="0.62"/><rect x="872.38" y="271.2" width="4.0" height="6.7" fill="#089981"/><text x="151" y="127.4" font-family='"Liberation Sans", sans-serif' font-size="16.8" font-weight="700" fill="#2962ff" textLength="29.7" lengthAdjust="spacingAndGlyphs">DXY</text><g><path d="M 880.58 426.08 A 6 6 0 1 1 875.64 420.69" fill="none" stroke="#b565d4" stroke-width="1.4"/><circle cx="878.8" cy="422.2" r="1.6" fill="#f23645"/><path d="M 877.1 422.3 L 872.3 427.7 L 874.9 427.7 L 873.3 430.9 L 877.9 425.3 L 875.4 425.3 Z" fill="#a045c4"/></g></g><g clip-path="url(#rocclip)"><line x1="36" y1="499.1" x2="934" y2="499.1" stroke="#b2b5be" stroke-width="1.2" stroke-dasharray="2.5 3.24"/><rect x="38.11" y="490.1" width="2" height="9.0" fill="#2962ff"/><rect x="43.83" y="499.1" width="2" height="18.3" fill="#2962ff"/><rect x="49.55" y="499.1" width="2" height="5.0" fill="#2962ff"/><rect x="55.27" y="463.9" width="2" height="35.2" fill="#2962ff"/><rect x="60.99" y="482.1" width="2" height="17.0" fill="#2962ff"/><rect x="66.72" y="499.1" width="2" height="16.3" fill="#2962ff"/><rect x="72.44" y="489.4" width="2" height="9.7" fill="#2962ff"/><rect x="78.16" y="460.9" width="2" height="38.2" fill="#2962ff"/><rect x="83.88" y="499.1" width="2" height="2.2" fill="#2962ff"/><rect x="89.60" y="499.1" width="2" height="17.9" fill="#2962ff"/><rect x="95.32" y="493.5" width="2" height="5.6" fill="#2962ff"/><rect x="101.04" y="481.9" width="2" height="17.2" fill="#2962ff"/><rect x="106.76" y="497.5" width="2" height="1.6" fill="#2962ff"/><rect x="112.48" y="499.1" width="2" height="47.3" fill="#2962ff"/><rect x="118.20" y="499.1" width="2" height="51.5" fill="#2962ff"/><rect x="123.93" y="499.1" width="2" height="27.4" fill="#2962ff"/><rect x="129.65" y="499.1" width="2" height="59.8" fill="#2962ff"/><rect x="135.37" y="499.1" width="2" height="84.4" fill="#2962ff"/><rect x="141.09" y="499.1" width="2" height="27.6" fill="#2962ff"/><rect x="146.81" y="493.2" width="2" height="5.9" fill="#2962ff"/><rect x="152.53" y="498.6" width="2" height="1.0" fill="#2962ff"/><rect x="158.25" y="481.7" width="2" height="17.4" fill="#2962ff"/><rect x="163.97" y="459.3" width="2" height="39.8" fill="#2962ff"/><rect x="169.69" y="462.0" width="2" height="37.1" fill="#2962ff"/><rect x="175.41" y="474.9" width="2" height="24.2" fill="#2962ff"/><rect x="181.14" y="491.4" width="2" height="7.7" fill="#2962ff"/><rect x="186.86" y="499.1" width="2" height="14.2" fill="#2962ff"/><rect x="192.58" y="476.0" width="2" height="23.1" fill="#2962ff"/><rect x="198.30" y="470.3" width="2" height="28.8" fill="#2962ff"/><rect x="204.02" y="495.4" width="2" height="3.7" fill="#2962ff"/><rect x="209.74" y="475.5" width="2" height="23.6" fill="#2962ff"/><rect x="215.46" y="464.8" width="2" height="34.3" fill="#2962ff"/><rect x="221.18" y="487.4" width="2" height="11.7" fill="#2962ff"/><rect x="226.90" y="499.1" width="2" height="27.4" fill="#2962ff"/><rect x="232.62" y="499.1" width="2" height="18.0" fill="#2962ff"/><rect x="238.35" y="476.0" width="2" height="23.1" fill="#2962ff"/><rect x="244.07" y="480.1" width="2" height="19.0" fill="#2962ff"/><rect x="249.79" y="494.0" width="2" height="5.1" fill="#2962ff"/><rect x="255.51" y="482.6" width="2" height="16.5" fill="#2962ff"/><rect x="261.23" y="476.8" width="2" height="22.3" fill="#2962ff"/><rect x="266.95" y="484.2" width="2" height="14.9" fill="#2962ff"/><rect x="272.67" y="485.3" width="2" height="13.8" fill="#2962ff"/><rect x="278.39" y="488.6" width="2" height="10.5" fill="#2962ff"/><rect x="284.11" y="498.6" width="2" height="1.0" fill="#2962ff"/><rect x="289.84" y="499.1" width="2" height="5.4" fill="#2962ff"/><rect x="295.56" y="491.6" width="2" height="7.5" fill="#2962ff"/><rect x="301.28" y="496.4" width="2" height="2.7" fill="#2962ff"/><rect x="307.00" y="481.4" width="2" height="17.7" fill="#2962ff"/><rect x="312.72" y="462.3" width="2" height="36.8" fill="#2962ff"/><rect x="318.44" y="498.6" width="2" height="1.0" fill="#2962ff"/><rect x="324.16" y="499.1" width="2" height="33.4" fill="#2962ff"/><rect x="329.88" y="499.1" width="2" height="36.5" fill="#2962ff"/><rect x="335.60" y="491.3" width="2" height="7.8" fill="#2962ff"/><rect x="341.32" y="450.5" width="2" height="48.6" fill="#2962ff"/><rect x="347.04" y="479.2" width="2" height="19.9" fill="#2962ff"/><rect x="352.77" y="477.2" width="2" height="21.9" fill="#2962ff"/><rect x="358.49" y="467.8" width="2" height="31.3" fill="#2962ff"/><rect x="364.21" y="487.8" width="2" height="11.3" fill="#2962ff"/><rect x="369.93" y="488.8" width="2" height="10.3" fill="#2962ff"/><rect x="375.65" y="499.1" width="2" height="22.8" fill="#2962ff"/><rect x="381.37" y="499.1" width="2" height="22.2" fill="#2962ff"/><rect x="387.09" y="489.9" width="2" height="9.2" fill="#2962ff"/><rect x="392.81" y="465.8" width="2" height="33.3" fill="#2962ff"/><rect x="398.53" y="474.2" width="2" height="24.9" fill="#2962ff"/><rect x="404.25" y="499.1" width="2" height="11.5" fill="#2962ff"/><rect x="409.98" y="499.1" width="2" height="7.7" fill="#2962ff"/><rect x="415.70" y="486.4" width="2" height="12.7" fill="#2962ff"/><rect x="421.42" y="489.7" width="2" height="9.4" fill="#2962ff"/><rect x="427.14" y="489.1" width="2" height="10.0" fill="#2962ff"/><rect x="432.86" y="474.4" width="2" height="24.7" fill="#2962ff"/><rect x="438.58" y="474.5" width="2" height="24.6" fill="#2962ff"/><rect x="444.30" y="467.9" width="2" height="31.2" fill="#2962ff"/><rect x="450.02" y="499.1" width="2" height="1.6" fill="#2962ff"/><rect x="455.74" y="499.1" width="2" height="23.5" fill="#2962ff"/><rect x="461.47" y="462.7" width="2" height="36.4" fill="#2962ff"/><rect x="467.19" y="458.9" width="2" height="40.2" fill="#2962ff"/><rect x="472.91" y="499.1" width="2" height="8.6" fill="#2962ff"/><rect x="478.63" y="499.1" width="2" height="31.1" fill="#2962ff"/><rect x="484.35" y="499.1" width="2" height="28.6" fill="#2962ff"/><rect x="490.07" y="499.1" width="2" height="11.6" fill="#2962ff"/><rect x="495.79" y="499.1" width="2" height="14.5" fill="#2962ff"/><rect x="501.51" y="499.1" width="2" height="15.1" fill="#2962ff"/><rect x="507.23" y="464.8" width="2" height="34.3" fill="#2962ff"/><rect x="512.95" y="456.7" width="2" height="42.4" fill="#2962ff"/><rect x="518.67" y="499.1" width="2" height="15.1" fill="#2962ff"/><rect x="524.40" y="499.1" width="2" height="20.6" fill="#2962ff"/><rect x="530.12" y="484.1" width="2" height="15.0" fill="#2962ff"/><rect x="535.84" y="497.7" width="2" height="1.4" fill="#2962ff"/><rect x="541.56" y="499.1" width="2" height="16.9" fill="#2962ff"/><rect x="547.28" y="499.1" width="2" height="27.2" fill="#2962ff"/><rect x="553.00" y="495.3" width="2" height="3.8" fill="#2962ff"/><rect x="558.72" y="458.6" width="2" height="40.5" fill="#2962ff"/><rect x="564.44" y="483.6" width="2" height="15.5" fill="#2962ff"/><rect x="570.16" y="498.6" width="2" height="1.0" fill="#2962ff"/><rect x="575.88" y="499.1" width="2" height="21.8" fill="#2962ff"/><rect x="581.61" y="493.3" width="2" height="5.8" fill="#2962ff"/><rect x="587.33" y="476.7" width="2" height="22.4" fill="#2962ff"/><rect x="593.05" y="499.1" width="2" height="23.3" fill="#2962ff"/><rect x="598.77" y="499.1" width="2" height="65.1" fill="#2962ff"/><rect x="604.49" y="499.1" width="2" height="38.0" fill="#2962ff"/><rect x="610.21" y="482.2" width="2" height="16.9" fill="#2962ff"/><rect x="615.93" y="488.2" width="2" height="10.9" fill="#2962ff"/><rect x="621.65" y="481.6" width="2" height="17.5" fill="#2962ff"/><rect x="627.37" y="485.8" width="2" height="13.3" fill="#2962ff"/><rect x="633.10" y="499.1" width="2" height="9.6" fill="#2962ff"/><rect x="638.82" y="499.1" width="2" height="74.8" fill="#2962ff"/><rect x="644.54" y="499.1" width="2" height="54.4" fill="#2962ff"/><rect x="650.26" y="485.8" width="2" height="13.3" fill="#2962ff"/><rect x="655.98" y="499.1" width="2" height="24.4" fill="#2962ff"/><rect x="661.70" y="499.1" width="2" height="38.3" fill="#2962ff"/><rect x="667.42" y="499.1" width="2" height="10.2" fill="#2962ff"/><rect x="673.14" y="482.9" width="2" height="16.2" fill="#2962ff"/><rect x="678.86" y="492.1" width="2" height="7.0" fill="#2962ff"/><rect x="684.58" y="499.1" width="2" height="20.9" fill="#2962ff"/><rect x="690.31" y="499.1" width="2" height="23.2" fill="#2962ff"/><rect x="696.03" y="499.1" width="2" height="27.9" fill="#2962ff"/><rect x="701.75" y="499.1" width="2" height="16.3" fill="#2962ff"/><rect x="707.47" y="465.1" width="2" height="34.0" fill="#2962ff"/><rect x="713.19" y="482.7" width="2" height="16.4" fill="#2962ff"/><rect x="718.91" y="494.2" width="2" height="4.9" fill="#2962ff"/><rect x="724.63" y="467.6" width="2" height="31.5" fill="#2962ff"/><rect x="730.35" y="475.0" width="2" height="24.1" fill="#2962ff"/><rect x="736.07" y="499.1" width="2" height="12.6" fill="#2962ff"/><rect x="741.79" y="499.1" width="2" height="7.7" fill="#2962ff"/><rect x="747.51" y="480.8" width="2" height="18.3" fill="#2962ff"/><rect x="753.24" y="499.1" width="2" height="8.0" fill="#2962ff"/><rect x="758.96" y="499.1" width="2" height="47.9" fill="#2962ff"/><rect x="764.68" y="499.1" width="2" height="79.9" fill="#2962ff"/><rect x="770.40" y="499.1" width="2" height="15.8" fill="#2962ff"/><rect x="776.12" y="475.5" width="2" height="23.6" fill="#2962ff"/><rect x="781.84" y="499.1" width="2" height="20.9" fill="#2962ff"/><rect x="787.56" y="499.1" width="2" height="3.5" fill="#2962ff"/><rect x="793.28" y="499.1" width="2" height="16.0" fill="#2962ff"/><rect x="799.00" y="499.1" width="2" height="30.3" fill="#2962ff"/><rect x="804.73" y="499.1" width="2" height="13.2" fill="#2962ff"/><rect x="810.45" y="499.1" width="2" height="34.6" fill="#2962ff"/><rect x="816.17" y="499.1" width="2" height="8.4" fill="#2962ff"/><rect x="821.89" y="478.7" width="2" height="20.4" fill="#2962ff"/><rect x="827.61" y="456.4" width="2" height="42.7" fill="#2962ff"/><rect x="833.33" y="452.1" width="2" height="47.0" fill="#2962ff"/><rect x="839.05" y="490.3" width="2" height="8.8" fill="#2962ff"/><rect x="844.77" y="498.6" width="2" height="1.0" fill="#2962ff"/><rect x="850.49" y="499.1" width="2" height="5.5" fill="#2962ff"/><rect x="856.21" y="496.9" width="2" height="2.2" fill="#2962ff"/><rect x="861.94" y="496.9" width="2" height="2.2" fill="#2962ff"/><rect x="867.66" y="499.1" width="2" height="7.2" fill="#2962ff"/><rect x="873.38" y="495.0" width="2" height="4.1" fill="#2962ff"/></g><text x="939.8" y="53.8" font-family='"Liberation Sans", sans-serif' font-size="7.2" fill="#131722" textLength="24.7" lengthAdjust="spacingAndGlyphs">107.500</text><text x="939.8" y="75.6" font-family='"Liberation Sans", sans-serif' font-size="7.2" fill="#131722" textLength="24.7" lengthAdjust="spacingAndGlyphs">107.000</text><text x="939.8" y="97.4" font-family='"Liberation Sans", sans-serif' font-size="7.2" fill="#131722" textLength="24.7" lengthAdjust="spacingAndGlyphs">106.500</text><text x="939.8" y="119.2" font-family='"Liberation Sans", sans-serif' font-size="7.2" fill="#131722" textLength="24.7" lengthAdjust="spacingAndGlyphs">106.000</text><text x="939.8" y="162.8" font-family='"Liberation Sans", sans-serif' font-size="7.2" fill="#131722" textLength="24.7" lengthAdjust="spacingAndGlyphs">105.000</text><text x="939.8" y="206.4" font-family='"Liberation Sans", sans-serif' font-size="7.2" fill="#131722" textLength="24.7" lengthAdjust="spacingAndGlyphs">104.000</text><text x="939.8" y="228.2" font-family='"Liberation Sans", sans-serif' font-size="7.2" fill="#131722" textLength="24.7" lengthAdjust="spacingAndGlyphs">103.500</text><text x="939.8" y="250.0" font-family='"Liberation Sans", sans-serif' font-size="7.2" fill="#131722" textLength="24.7" lengthAdjust="spacingAndGlyphs">103.000</text><text x="939.8" y="293.5" font-family='"Liberation Sans", sans-serif' font-size="7.2" fill="#131722" textLength="24.7" lengthAdjust="spacingAndGlyphs">102.000</text><text x="939.8" y="315.3" font-family='"Liberation Sans", sans-serif' font-size="7.2" fill="#131722" textLength="24.7" lengthAdjust="spacingAndGlyphs">101.500</text><text x="939.8" y="337.1" font-family='"Liberation Sans", sans-serif' font-size="7.2" fill="#131722" textLength="24.7" lengthAdjust="spacingAndGlyphs">101.000</text><text x="939.8" y="358.9" font-family='"Liberation Sans", sans-serif' font-size="7.2" fill="#131722" textLength="24.7" lengthAdjust="spacingAndGlyphs">100.500</text><text x="939.8" y="380.7" font-family='"Liberation Sans", sans-serif' font-size="7.2" fill="#131722" textLength="24.7" lengthAdjust="spacingAndGlyphs">100.000</text><text x="939.8" y="402.5" font-family='"Liberation Sans", sans-serif' font-size="7.2" fill="#131722" textLength="20.9" lengthAdjust="spacingAndGlyphs">99.500</text><text x="939.8" y="424.3" font-family='"Liberation Sans", sans-serif' font-size="7.2" fill="#131722" textLength="20.9" lengthAdjust="spacingAndGlyphs">99.000</text><text x="939.8" y="141.0" font-family='"Liberation Sans", sans-serif' font-size="7.2" fill="#131722" textLength="24.7" lengthAdjust="spacingAndGlyphs">105.500</text><text x="939.8" y="184.6" font-family='"Liberation Sans", sans-serif' font-size="7.2" fill="#131722" textLength="24.7" lengthAdjust="spacingAndGlyphs">104.500</text><rect x="934.2" y="139.4" width="33.4" height="10" rx="1.5" fill="#2962ff"/><text x="939.8" y="147.0" font-family='"Liberation Sans", sans-serif' font-size="7.2" fill="#fff" textLength="24.7" lengthAdjust="spacingAndGlyphs">105.361</text><rect x="934.2" y="170.1" width="33.4" height="10" rx="1.5" fill="#131722"/><text x="939.8" y="177.7" font-family='"Liberation Sans", sans-serif' font-size="7.2" fill="#fff" textLength="24.7" lengthAdjust="spacingAndGlyphs">104.657</text><rect x="934.2" y="265.9" width="33.4" height="10" rx="1.5" fill="#089981"/><text x="939.8" y="273.5" font-family='"Liberation Sans", sans-serif' font-size="7.2" fill="#fff" textLength="24.7" lengthAdjust="spacingAndGlyphs">102.459</text><rect x="936.5" y="18.5" width="30.8" height="14.2" rx="2.5" fill="#fff" stroke="#e6e8ee" stroke-width="1.1"/><text x="942.2" y="28.2" font-family='"Liberation Sans", sans-serif' font-size="7" fill="#131722" textLength="12.8" lengthAdjust="spacingAndGlyphs">USD</text><text x="939" y="457.2" font-family='"Liberation Sans", sans-serif' font-size="7.2" fill="#131722" textLength="14.7" lengthAdjust="spacingAndGlyphs">1.00</text><text x="939" y="479.4" font-family='"Liberation Sans", sans-serif' font-size="7.2" fill="#131722" textLength="14.7" lengthAdjust="spacingAndGlyphs">0.50</text><text x="939" y="501.7" font-family='"Liberation Sans", sans-serif' font-size="7.2" fill="#131722" textLength="14.7" lengthAdjust="spacingAndGlyphs">0.00</text><text x="939" y="524.0" font-family='"Liberation Sans", sans-serif' font-size="7.2" fill="#131722" textLength="17.8" lengthAdjust="spacingAndGlyphs">−0.50</text><text x="939" y="546.2" font-family='"Liberation Sans", sans-serif' font-size="7.2" fill="#131722" textLength="17.8" lengthAdjust="spacingAndGlyphs">−1.00</text><text x="939" y="568.5" font-family='"Liberation Sans", sans-serif' font-size="7.2" fill="#131722" textLength="17.8" lengthAdjust="spacingAndGlyphs">−1.50</text><text x="939" y="590.8" font-family='"Liberation Sans", sans-serif' font-size="7.2" fill="#131722" textLength="17.8" lengthAdjust="spacingAndGlyphs">−2.00</text><text x="90.6" y="606.6" text-anchor="middle" font-family='"Liberation Sans", sans-serif' font-size="7.2" font-weight="400" fill="#131722">Jul</text><text x="147.8" y="606.6" text-anchor="middle" font-family='"Liberation Sans", sans-serif' font-size="7.2" font-weight="400" fill="#131722">17</text><text x="210.7" y="606.6" text-anchor="middle" font-family='"Liberation Sans", sans-serif' font-size="7.2" font-weight="400" fill="#131722">Aug</text><text x="262.2" y="606.6" text-anchor="middle" font-family='"Liberation Sans", sans-serif' font-size="7.2" font-weight="400" fill="#131722">14</text><text x="342.3" y="606.6" text-anchor="middle" font-family='"Liberation Sans", sans-serif' font-size="7.2" font-weight="400" fill="#131722">Sep</text><text x="405.3" y="606.6" text-anchor="middle" font-family='"Liberation Sans", sans-serif' font-size="7.2" font-weight="400" fill="#131722">18</text><text x="462.5" y="606.6" text-anchor="middle" font-family='"Liberation Sans", sans-serif' font-size="7.2" font-weight="400" fill="#131722">Oct</text><text x="519.7" y="606.6" text-anchor="middle" font-family='"Liberation Sans", sans-serif' font-size="7.2" font-weight="400" fill="#131722">16</text><text x="588.3" y="606.6" text-anchor="middle" font-family='"Liberation Sans", sans-serif' font-size="7.2" font-weight="400" fill="#131722">Nov</text><text x="662.7" y="606.6" text-anchor="middle" font-family='"Liberation Sans", sans-serif' font-size="7.2" font-weight="400" fill="#131722">20</text><text x="714.2" y="606.6" text-anchor="middle" font-family='"Liberation Sans", sans-serif' font-size="7.2" font-weight="400" fill="#131722">Dec</text><text x="777.1" y="606.6" text-anchor="middle" font-family='"Liberation Sans", sans-serif' font-size="7.2" font-weight="400" fill="#131722">18</text><text x="828.6" y="606.6" text-anchor="middle" font-family='"Liberation Sans", sans-serif' font-size="7.2" font-weight="700" fill="#131722">2024</text><text x="880.1" y="606.6" text-anchor="middle" font-family='"Liberation Sans", sans-serif' font-size="7.2" font-weight="400" fill="#131722">15</text><circle cx="20.9" cy="604.2" r="5.9" fill="#f0f3fa"/><text x="20.9" y="606.8" text-anchor="middle" font-family='"Liberation Sans", sans-serif' font-size="7.2" fill="#6a6d78">Z</text><circle cx="952" cy="604.1" r="5.9" fill="#f0f3fa"/><text x="952" y="606.7" text-anchor="middle" font-family='"Liberation Sans", sans-serif' font-size="7.2" fill="#6a6d78">A</text><text x="40.8" y="27.0" font-family='"Liberation Sans", sans-serif' font-size="7" fill="#3b3e47" textLength="108.3" lengthAdjust="spacingAndGlyphs">US Dollar Index, 1D, PEPPERSTONE</text><text x="154.1" y="27.0" font-family='"Liberation Sans", sans-serif' font-size="7" fill="#3b3e47">O</text><text x="159.0" y="27.0" font-family='"Liberation Sans", sans-serif' font-size="7" fill="#089981" textLength="23.8" lengthAdjust="spacingAndGlyphs">102.304</text><text x="188.0" y="27.0" font-family='"Liberation Sans", sans-serif' font-size="7" fill="#3b3e47">H</text><text x="192.9" y="27.0" font-family='"Liberation Sans", sans-serif' font-size="7" fill="#089981" textLength="23.8" lengthAdjust="spacingAndGlyphs">102.599</text><text x="221.4" y="27.0" font-family='"Liberation Sans", sans-serif' font-size="7" fill="#3b3e47">L</text><text x="225.7" y="27.0" font-family='"Liberation Sans", sans-serif' font-size="7" fill="#089981" textLength="23.8" lengthAdjust="spacingAndGlyphs">102.094</text><text x="254.2" y="27.0" font-family='"Liberation Sans", sans-serif' font-size="7" fill="#3b3e47">C</text><text x="259.1" y="27.0" font-family='"Liberation Sans", sans-serif' font-size="7" fill="#089981" textLength="23.8" lengthAdjust="spacingAndGlyphs">102.459</text><text x="287.0" y="27.0" font-family='"Liberation Sans", sans-serif' font-size="7" fill="#089981" textLength="50.1" lengthAdjust="spacingAndGlyphs">+0.121 (+0.12%)</text><text x="40.8" y="37.4" font-family='"Liberation Sans", sans-serif' font-size="7" fill="#3b3e47" textLength="85.8" lengthAdjust="spacingAndGlyphs">SMA (200, close, 0, SMA, 5)</text><text x="131.1" y="37.4" font-family='"Liberation Sans", sans-serif' font-size="7" fill="#2962ff" textLength="24.1" lengthAdjust="spacingAndGlyphs">103.374</text><text x="40.8" y="46.8" font-family='"Liberation Sans", sans-serif' font-size="7" fill="#3b3e47" textLength="78.3" lengthAdjust="spacingAndGlyphs">EMA (5, close, 0, SMA, 5)</text><text x="124.3" y="46.8" font-family='"Liberation Sans", sans-serif' font-size="7" fill="#f23645" textLength="24.2" lengthAdjust="spacingAndGlyphs">102.384</text><text x="40.6" y="446.3" font-family='"Liberation Sans", sans-serif' font-size="7" fill="#3b3e47" textLength="44.6" lengthAdjust="spacingAndGlyphs">ROC (2, close)</text><text x="89.6" y="446.3" font-family='"Liberation Sans", sans-serif' font-size="7" fill="#2962ff" textLength="13.8" lengthAdjust="spacingAndGlyphs">0.09</text><text x="6.2" y="11.6" font-family='"Liberation Sans", sans-serif' font-size="7.2" fill="#3b3e47" textLength="226" lengthAdjust="spacingAndGlyphs">Pepperstone published on TradingView.com, Jan 15, 2024 07:05 UTC+11</text><g fill="#131722"><path d="M5.6 620 h4.6 v6 h-2.2 v-3.8 h-2.4 z"/><circle cx="11.6" cy="621.1" r="1.1"/><path d="M13.6 620 h3.6 l-3 6 h-2.4 z"/></g><text x="19.7" y="625.4" font-family='"Liberation Sans", sans-serif' font-size="7.5" fill="#131722" textLength="41.3" lengthAdjust="spacingAndGlyphs">TradingView</text></svg>
</body></html>
